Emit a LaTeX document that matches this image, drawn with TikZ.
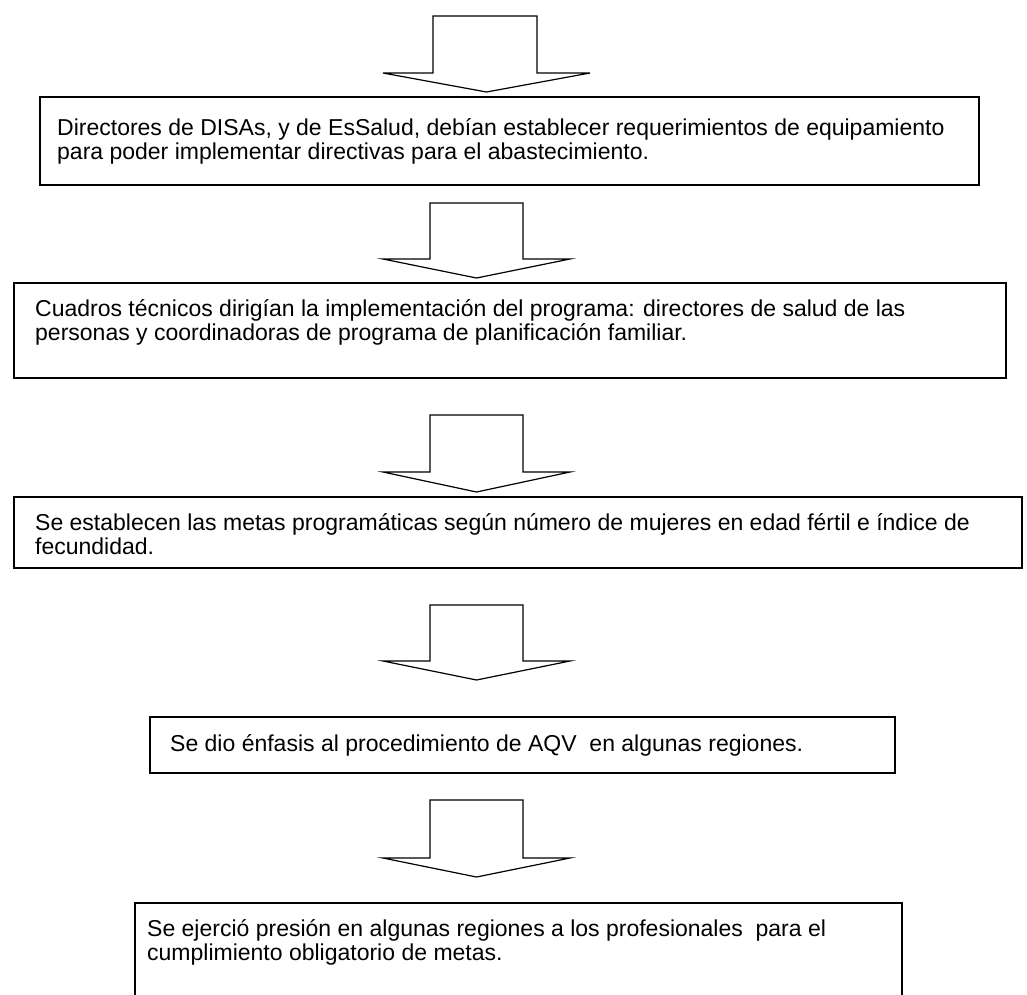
\documentclass[tikz,border=0pt]{standalone}
\usepackage{fontspec}
\setmainfont{Liberation Sans}
\newcommand\blockarrow[7]{% stem left, stem right, top, shoulder, wing left, wing right, tip y
  \draw[arrowshape] (#1,#3) -- (#2,#3) -- (#2,#4) -- (#6,#4) -- ({(#5+#6)/2},#7) -- (#5,#4) -- (#1,#4) -- cycle;}
\begin{document}
\begin{tikzpicture}[x=1pt,y=-1pt,
  box/.style={draw, line width=1.3pt, inner sep=0pt, outer sep=0pt, anchor=north west},
  arrowshape/.style={draw, line width=1.2pt, line join=miter},
  txt/.style={anchor=north west, align=left, inner sep=0pt, font=\fontsize{23}{23}\selectfont}]
\useasboundingbox[fill=white] (0,0) rectangle (1027,994);

% arrows
\blockarrow{433}{537}{16}{73}{383}{590}{92}
\blockarrow{430}{523}{203}{259}{383}{570}{278}
\blockarrow{430}{523}{415}{472}{383}{570}{492}
\blockarrow{430}{523}{605}{661}{383}{570}{680}
\blockarrow{430}{523}{800}{858}{383}{570}{877}

% boxes
\node[box, minimum width=939pt, minimum height=88pt] (b1) at (40,97) {};
\node[box, minimum width=992pt, minimum height=95pt] (b2) at (14,283) {};
\node[box, minimum width=1008pt, minimum height=71pt] (b3) at (14,497) {};
\node[box, minimum width=745pt, minimum height=56pt] (b4) at (150,717) {};
\draw[line width=1.3pt] (135,1000) coordinate (b5bl) -- (135,903) coordinate (b5tl) -- (902,903) coordinate (b5tr) -- (902,1000) coordinate (b5br);

% texts
\node[txt] (t1) at (57,117.9) {\strut Directores de DISAs, y de EsSalud, debían establecer requerimientos de equipamiento\\para poder implementar directivas para el abastecimiento.};
\node[txt] (t2) at (35,298.9) {\strut Cuadros técnicos dirigían la implementación del programa: directores de salud de las\\personas y coordinadoras de programa de planificación familiar.};
\node[txt] (t3) at (35,512.9) {\strut Se establecen las metas programáticas según número de mujeres en edad fértil e índice de\\fecundidad.};
\node[txt] (t4) at (170,733.9) {\strut Se dio énfasis al procedimiento de AQV\ \ en algunas regiones.};
\node[txt] (t5) at (147,918.9) {\strut Se ejerció presión en algunas regiones a los profesionales\ \ para el\\cumplimiento obligatorio de metas.};
\end{tikzpicture}
\end{document}
